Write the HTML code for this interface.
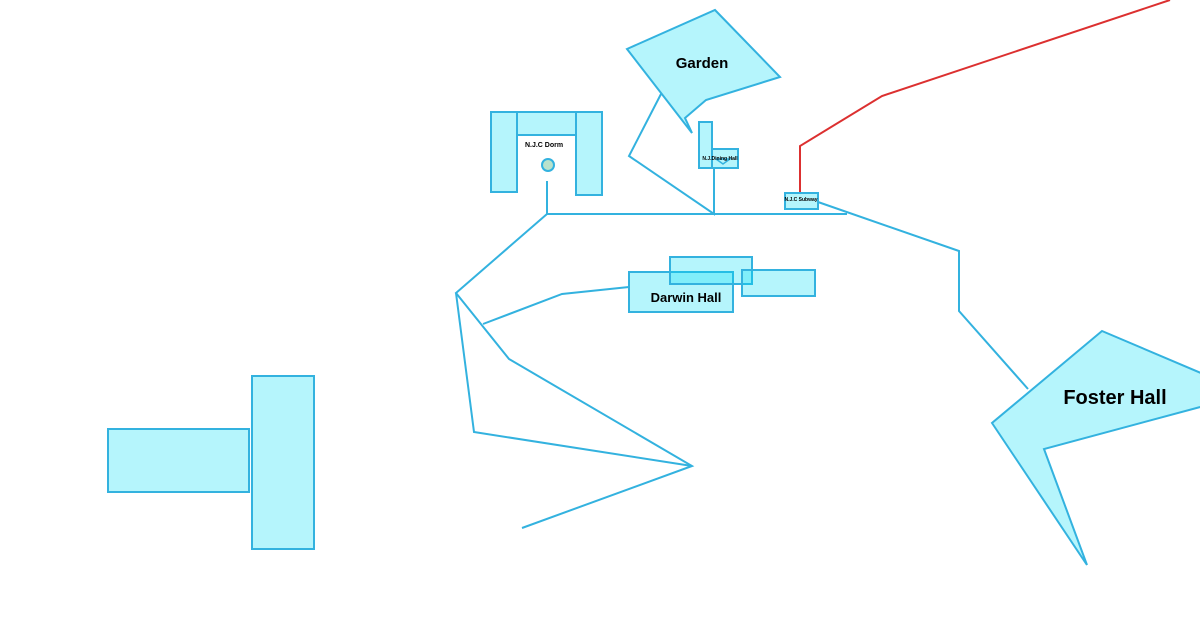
<!DOCTYPE html>
<html><head><meta charset="utf-8">
<style>
html,body{margin:0;padding:0;background:#fff;}
svg{display:block;}
text{font-family:"Liberation Sans",Arial,sans-serif;font-weight:bold;fill:#000;}
</style></head>
<body>
<svg width="1200" height="630" viewBox="0 0 1200 630" xmlns="http://www.w3.org/2000/svg">
<g fill="none" stroke="#33b2df" stroke-width="2" stroke-linejoin="miter">
  <!-- main connectors -->
  <polyline points="547,181 547,214 847,214"/>
  <polyline points="547,214 456,293 509,359 692,466 522,528"/>
  <polyline points="456,293 474,432 692,466"/>
  <polyline points="483,324 562,294 629,287"/>
  <polyline points="661,94 629,156 714,214 714,167"/>
  <polyline points="818,202 959,251 959,311 1028,389"/>
</g>
<polyline points="800,193 800,146 882,96 1170,0" fill="none" stroke="#dc3030" stroke-width="2"/>

<g fill="rgba(0,220,245,0.29)" stroke="#33b2df" stroke-width="2">
  <!-- left T -->
  <rect x="108" y="429" width="141" height="63"/>
  <rect x="252" y="376" width="62" height="173"/>
  <!-- dorm -->
  <rect x="491" y="112" width="26" height="80"/>
  <rect x="517" y="112" width="59" height="23"/>
  <rect x="576" y="112" width="26" height="83"/>
  <!-- garden -->
  <polygon points="627,49 715,10 780,77 706,100 685,118 692,133"/>
  <!-- dining -->
  <rect x="699" y="122" width="13" height="46"/>
  <rect x="712" y="149" width="26" height="19"/>
  <!-- subway -->
  <rect x="785" y="193" width="33" height="16"/>
  <!-- darwin -->
  <rect x="629" y="272" width="104" height="40"/>
  <rect x="670" y="257" width="82" height="27"/>
  <rect x="742" y="270" width="73" height="26"/>
  <!-- foster -->
  <polygon points="1102,331 1215,379 1215,403 1044,449 1087,565 992,423"/>
</g>
<circle cx="548" cy="165" r="6" fill="#b9e2cc" stroke="#33b2df" stroke-width="2"/>
<polyline points="716,159 730,159 723,164 716,159" fill="none" stroke="#33b2df" stroke-width="1.5"/>

<text x="544" y="147" font-size="7" text-anchor="middle">N.J.C Dorm</text>
<text x="720" y="160" font-size="5" text-anchor="middle">N.J.Dining Hall</text>
<text x="801" y="201" font-size="5" text-anchor="middle">N.J.C Subway</text>
<text x="702" y="68" font-size="15" text-anchor="middle">Garden</text>
<text x="686" y="302" font-size="13" text-anchor="middle">Darwin Hall</text>
<text x="1115" y="404" font-size="20" text-anchor="middle">Foster Hall</text>
</svg>
</body></html>
